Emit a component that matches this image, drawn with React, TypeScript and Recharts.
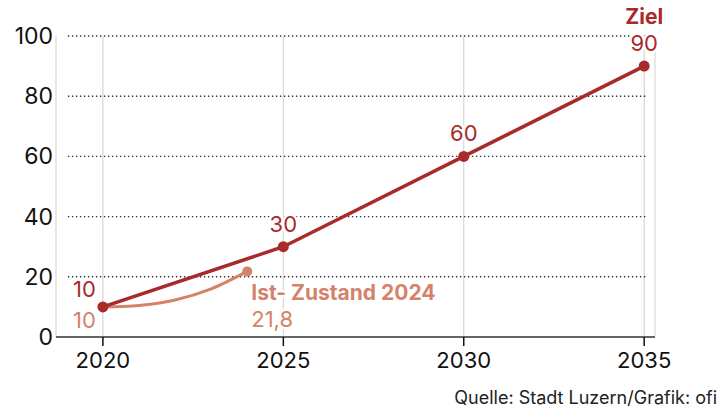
import { CartesianGrid, LabelList, Line, LineChart, ReferenceLine, XAxis, YAxis } from 'recharts'

const years = [2020, 2025, 2030, 2035]
const targetValues = [10, 30, 60, 90]
const actualYears = [2020, 2021, 2022, 2023, 2024]
const actualValues = [10, 10.5, 12.3, 16, 21.8]
const yTicks = [0, 20, 40, 60, 80, 100]
const gridValues = [20, 40, 60, 80, 100]

const RED = '#a82a2a'
const SALMON = '#d4836b'
const FONT = 'Inter, "Liberation Sans", Arial, sans-serif'

const targetData = years.map((year, i) => ({ year, target: targetValues[i] }))
const actualData = actualYears.map((year, i) => ({ year, actual: actualValues[i] }))

const fmt = (v: number) => String(v).replace('.', ',')

function YTick({ y, payload }: any) {
  return (
    <text x={53} y={y} dy={8} textAnchor="end" fontSize={23} fill="#111" fontFamily={FONT}>
      {payload.value}
    </text>
  )
}

function XTick({ x, y, payload }: any) {
  return (
    <text x={x} y={y} dy={20} textAnchor="middle" fontSize={22} fill="#111" fontFamily={FONT}>
      {payload.value}
    </text>
  )
}

const halo = { stroke: '#fff', strokeWidth: 5, paintOrder: 'stroke' as const }

function TargetLabel({ x, y, value, index }: any) {
  if (index === 0) {
    return (
      <text x={x - 7} y={y - 10} textAnchor="end" fontSize={22} fill={RED} fontFamily={FONT}>
        {fmt(value)}
      </text>
    )
  }
  return (
    <g fontFamily={FONT}>
      {index === targetValues.length - 1 ? (
        <text x={x} y={y - 42} textAnchor="middle" fontSize={21} fontWeight="bold" fill={RED}>
          Ziel
        </text>
      ) : null}
      <text x={x} y={y - 15} textAnchor="middle" fontSize={22} fill={RED} {...halo}>
        {fmt(value)}
      </text>
    </g>
  )
}

function ActualLabel({ x, y, value, index }: any) {
  if (index === 0) {
    return (
      <text x={x - 7} y={y + 21} textAnchor="end" fontSize={22} fill={SALMON} fontFamily={FONT}>
        {fmt(value)}
      </text>
    )
  }
  if (index !== actualValues.length - 1) return null
  return (
    <g fontFamily={FONT} fill={SALMON}>
      <text x={x + 4} y={y + 29} fontSize={21} fontWeight="bold" {...halo}>
        Ist- Zustand 2024
      </text>
      <text x={x + 4} y={y + 56} fontSize={22} {...halo}>
        {fmt(value)}
      </text>
    </g>
  )
}

export default function App() {
  return (
    <div style={{ position: 'absolute', left: 0, top: 0, width: 717, height: 409, background: '#fff' }}>
      <LineChart width={717} height={409} margin={{ top: 36, right: 62, bottom: 0, left: 0 }}>
        <CartesianGrid horizontal={false} stroke="#cfcfcf" strokeWidth={1} />
        <XAxis
          type="number"
          dataKey="year"
          domain={[2018.7, 2035.3]}
          ticks={years}
          allowDuplicatedCategory={false}
          stroke="#666"
          strokeWidth={2}
          tickLine={{ stroke: '#111', strokeWidth: 1.5 }}
          tickSize={9}
          tick={<XTick />}
          height={72}
        />
        <YAxis
          type="number"
          domain={[0, 100]}
          ticks={yTicks}
          axisLine={false}
          tickLine={false}
          tickSize={0}
          tick={<YTick />}
          width={56}
        />
        {gridValues.map((v) => (
          <ReferenceLine
            key={v}
            segment={[
              { x: 2019.03, y: v },
              { x: 2035.1, y: v },
            ]}
            stroke="#333"
            strokeWidth={1.4}
            strokeDasharray="1.4 2.6"
          />
        ))}
        <Line
          data={actualData}
          dataKey="actual"
          type="monotone"
          stroke={SALMON}
          strokeWidth={3}
          dot={(p: any) =>
            p.index === actualValues.length - 1 ? (
              <circle key={p.index} cx={p.cx} cy={p.cy} r={5} fill={SALMON} />
            ) : (
              <g key={p.index} />
            )
          }
          isAnimationActive={false}
        >
          <LabelList dataKey="actual" content={<ActualLabel />} />
        </Line>
        <Line
          data={targetData}
          dataKey="target"
          type="linear"
          stroke={RED}
          strokeWidth={3.5}
          dot={{ r: 5.5, fill: RED, stroke: RED, strokeWidth: 0 }}
          isAnimationActive={false}
        >
          <LabelList dataKey="target" content={<TargetLabel />} />
        </Line>
      </LineChart>
      <div
        style={{
          position: 'absolute',
          right: 0,
          top: 388,
          fontFamily: FONT,
          fontSize: 18,
          lineHeight: '20px',
          color: '#222',
          whiteSpace: 'nowrap',
        }}
      >
        Quelle: Stadt Luzern/Grafik: ofi
      </div>
    </div>
  )
}
